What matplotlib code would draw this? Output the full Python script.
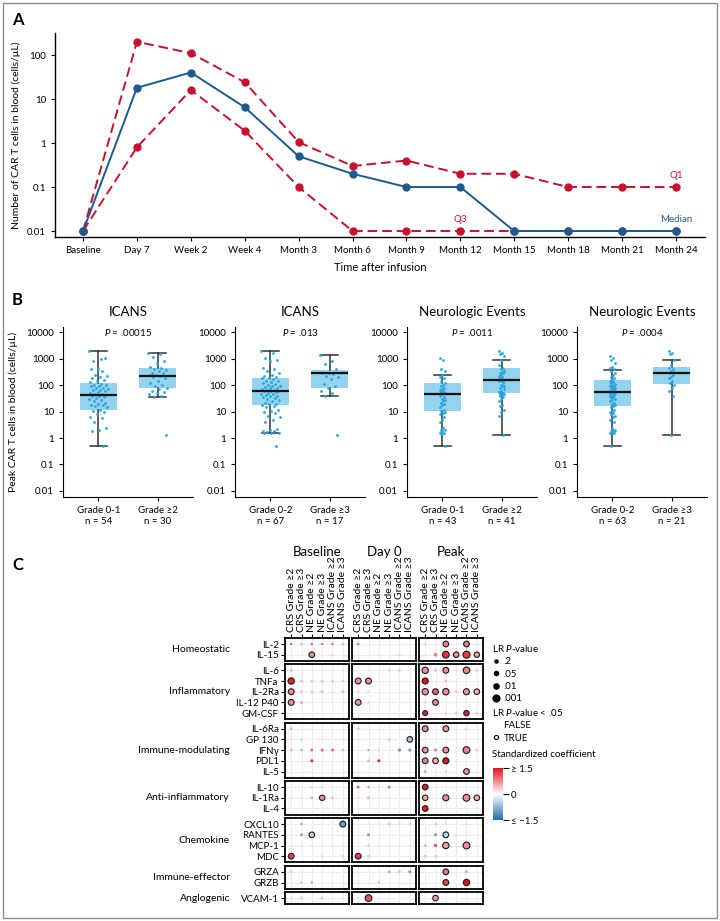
import numpy as np
import matplotlib.pyplot as plt
from matplotlib.colors import LinearSegmentedColormap, Normalize
from matplotlib.cm import ScalarMappable
from matplotlib.lines import Line2D
from matplotlib.patches import Rectangle

plt.rcParams['font.family'] = ['Lato', 'DejaVu Sans']
plt.rcParams['mathtext.fontset'] = 'custom'
plt.rcParams['mathtext.it'] = 'Lato:italic'
plt.rcParams['mathtext.rm'] = 'Lato'
plt.rcParams['axes.unicode_minus'] = False

# ---------------- panel A data ----------------
timepoints = ['Baseline', 'Day 7', 'Week 2', 'Week 4', 'Month 3', 'Month 6', 'Month 9',
              'Month 12', 'Month 15', 'Month 18', 'Month 21', 'Month 24']
median = [0.01, 18, 40, 6.5, 0.5, 0.2, 0.1, 0.1, 0.01, 0.01, 0.01, 0.01]
q1 = [0.01, 200, 110, 24, 1.05, 0.3, 0.4, 0.2, 0.2, 0.1, 0.1, 0.1]
q3 = [0.01, 0.8, 16, 1.9, 0.1, 0.01, 0.01, 0.01, 0.01, 0.01, 0.01, 0.01]

# ---------------- panel B data ----------------
b_titles = ['ICANS', 'ICANS', 'Neurologic Events', 'Neurologic Events']
b_pvals = ['$P$ = .00015', '$P$ = .013', '$P$ = .0011', '$P$ = .0004']
b_groups = [['Grade 0-1', 'Grade ≥2'], ['Grade 0-2', 'Grade ≥3'],
            ['Grade 0-1', 'Grade ≥2'], ['Grade 0-2', 'Grade ≥3']]
b_n = [[54, 30], [67, 17], [43, 41], [63, 21]]
# whisker low, Q1, median, Q3, whisker high
b_stats = [
    [[0.5, 12, 42, 120, 1900], [35, 75, 230, 450, 1600]],
    [[1.5, 18, 60, 185, 1900], [40, 80, 280, 380, 1400]],
    [[0.5, 11, 48, 120, 250], [1.3, 52, 160, 450, 900]],
    [[0.5, 17, 55, 160, 360], [1.3, 115, 300, 500, 900]],
]
icans01 = [1900, 950, 850, 1100, 400, 400, 350, 250, 220, 200, 180, 160, 150, 130, 110, 105,
           100, 95, 90, 80, 75, 70, 68, 65, 60, 55, 50, 48, 45, 42, 40, 38, 35, 32, 30, 28,
           25, 22, 20, 18, 18, 17, 15, 12, 11, 10, 8, 6.5, 5.5, 4, 2.3, 2, 1.8, 0.5]
icans2 = [1600, 1500, 1200, 800, 700, 500, 450, 400, 380, 350, 300, 280, 250, 240, 230,
          200, 180, 150, 120, 100, 90, 80, 70, 60, 55, 50, 45, 40, 35, 1.3]
icans02 = [1900, 1700, 1100, 900, 800, 450, 420, 350, 300, 250, 220, 200, 190, 180, 170,
           150, 140, 130, 120, 110, 100, 95, 90, 85, 80, 75, 70, 68, 65, 62, 60, 58, 55, 50,
           48, 45, 42, 40, 38, 35, 32, 30, 28, 25, 22, 20, 19, 18, 17, 15, 12, 11, 10, 9, 7,
           6, 5, 4, 2.2, 2, 1.9, 1.8, 1.7, 1.6, 1.5, 1.5, 0.5]
icans3 = [1400, 800, 650, 400, 300, 280, 260, 220, 200, 170, 110, 90, 75, 60, 50, 40, 1.3]
ne01 = [1100, 900, 400, 350, 250, 200, 180, 150, 120, 100, 90, 80, 70, 65, 60, 55, 50, 45,
        40, 35, 30, 28, 25, 22, 20, 18, 15, 12, 11, 10, 9, 8, 6, 5, 4, 2.3, 2.1, 2, 1.8, 1.6,
        1.5, 1.4, 0.5]
ne2 = [1900, 1700, 1500, 1300, 900, 600, 450, 400, 350, 320, 300, 280, 250, 220, 200, 180,
       160, 150, 140, 120, 100, 95, 90, 80, 70, 60, 55, 50, 48, 45, 40, 38, 35, 30, 25, 18,
       17, 12, 10, 7, 1.3]
ne02 = [1300, 1100, 900, 700, 500, 450, 400, 350, 300, 250, 200, 180, 160, 150, 130, 120,
        110, 100, 95, 90, 85, 80, 75, 70, 65, 60, 58, 55, 52, 50, 48, 45, 42, 40, 38, 35, 32,
        30, 28, 25, 22, 20, 18, 16, 15, 12, 11, 10, 9, 8, 7, 6, 5, 4, 2.3, 2.1, 2, 1.9, 1.8,
        1.7, 1.6, 1.5, 0.5]
ne3 = [1900, 1700, 1500, 900, 600, 450, 400, 350, 320, 300, 280, 250, 200, 180, 150, 120,
       100, 80, 60, 40, 1.3]
b_points = [[icans01, icans2], [icans02, icans3], [ne01, ne2], [ne02, ne3]]

# ---------------- panel C data ----------------
timesets = ['Baseline', 'Day 0', 'Peak']
outcomes = ['CRS Grade ≥2', 'CRS Grade ≥3', 'NE Grade ≥2', 'NE Grade ≥3',
            'ICANS Grade ≥2', 'ICANS Grade ≥3']
groups = ['Homeostatic', 'Inflammatory', 'Immune-modulating', 'Anti-inflammatory',
          'Chemokine', 'Immune-effector', 'Anglogenic']
cytokines = [['IL-2', 'IL-15'],
             ['IL-6', 'TNFa', 'IL-2Ra', 'IL-12 P40', 'GM-CSF'],
             ['IL-6Ra', 'GP 130', 'IFNγ', 'PDL1', 'IL-5'],
             ['IL-10', 'IL-1Ra', 'IL-4'],
             ['CXCL10', 'RANTES', 'MCP-1', 'MDC'],
             ['GRZA', 'GRZB'],
             ['VCAM-1']]
# standardized coefficient, 18 per cytokine (Baseline, Day 0, Peak x 6 outcomes)
coef = [
    [1.0, -0.6, 1.0, 1.0, 1.0, -0.6, 1.0, 0.1, 0.1, 0.1, 0.1, 0.1, 0.3, 0.2, 0.8, 0.1, 0.8, 0.2],
    [0.1, 0.1, 0.7, 0.1, 0.25, 0.1, 0.1, 0.1, 0.2, 0.05, 0.3, 0.1, 0.2, 0.8, 1.3, 0.7, 1.2, 0.6],
    [0.5, 0.1, 0.1, 0.1, 0.1, 0.2, 0.05, -0.15, 0.05, -0.4, -0.4, -0.1, 0.7, 0.5, 0.7, 0.3, 0.75, 0.4],
    [1.4, 0.4, 0.4, 0.4, 0.4, 0.4, 0.7, 0.7, 0.1, 0.1, 0.1, 0.1, 1.5, 0.15, 0.5, 0.1, 0.15, 0.1],
    [0.7, 0.4, 0.4, 0.45, 0.2, 0.45, 0.3, 0.3, 0.1, 0.1, 0.1, 0.1, 0.7, 1.0, 0.7, 0.4, 0.65, 0.5],
    [0.7, 0.5, 0.1, 0.1, 0.1, 0.1, 0.65, 0.3, 0.1, 0.1, 0.1, 0.1, 0.3, 0.7, 0.1, 0.1, 0.1, 0.1],
    [0.1, 0.1, 0.1, 0.1, 0.1, 0.1, 0.1, 0.1, 0.1, 0.1, 0.1, 0.1, 1.4, 0.1, 0.3, 0.4, 1.4, 0.4],
    [0.5, 0.1, 0.1, 0.1, -0.1, -0.15, 0.4, 0.1, 0.1, 0.05, -0.2, 0.1, 0.7, 0.1, 0.65, 0.1, 0.3, 0.1],
    [0.25, -0.4, 0.05, -0.25, 0.05, -0.2, 0.2, 0.1, 0.05, -0.4, 0.05, -0.6, 0.1, 0.1, 0.1, 0.1, 0.1, 0.1],
    [0.5, -0.7, 1.0, 1.0, 1.0, -0.6, 0.05, -0.7, 0.3, 0.05, -1.1, -1.0, 0.7, 0.9, 0.7, 0.1, 0.8, 0.4],
    [0.1, 0.1, 1.3, 0.1, 0.1, 0.1, 0.1, 0.5, 1.4, 0.1, 0.1, 0.1, 0.75, 0.5, 1.5, 0.1, 0.1, 0.1],
    [0.1, 0.1, 0.1, 0.1, 0.1, 0.1, 0.1, 0.1, 0.1, 0.1, 0.1, 0.1, 0.6, 0.2, 0.3, 0.1, 0.7, 0.15],
    [0.05, 0.05, 0.3, -0.35, 0.15, 0.05, 1.0, -0.8, 0.3, -1.0, -0.2, 0.05, 1.5, 0.15, 0.15, 0.15, 0.15, 0.15],
    [0.2, -0.2, 0.5, 0.7, 0.45, 0.05, 0.25, 0.45, 0.15, 0.2, 0.05, 0.05, 0.5, 0.1, 0.7, 0.1, 0.7, 0.5],
    [0.1, 0.1, 0.1, 0.1, 0.1, 0.1, 0.1, 0.1, 0.1, 0.1, 0.1, 0.1, 1.5, 0.15, 0.15, 0.15, 0.15, 0.15],
    [0.05, -0.7, 0.05, -0.1, 0.05, -1.0, 0.05, -0.25, -0.2, -0.45, -0.35, -0.35, 0.05, 0.4, 0.3, 0.05, 0.3, 0.1],
    [0.05, -0.9, -0.45, 0.05, 0.05, -0.2, 0.05, -0.9, 0.05, 0.05, 0.05, 0.05, -0.2, -1.0, -0.45, -0.25, -0.2, 0.05],
    [0.2, 0.2, 0.2, 0.2, 0.2, 0.2, 0.1, -0.4, 0.2, 0.2, 0.2, 0.2, 0.5, 1.1, 0.6, 0.1, 0.7, 0.15],
    [1.2, 0.1, 0.1, 0.3, 0.15, 0.35, 1.2, 0.4, 0.1, 0.1, 0.1, 0.1, 0.45, 0.4, 0.1, 0.1, 0.1, 0.1],
    [0.4, 0.1, 0.1, 0.1, -0.15, 0.05, 0.2, 0.05, 0.05, -0.7, -0.5, -1.0, 0.05, 0.05, 0.9, 0.05, 0.6, 0.05],
    [0.05, -0.5, 0.6, 0.05, 0.05, 0.05, 0.2, 0.2, 0.5, 0.05, 0.05, 0.05, 0.05, 0.05, 1.2, 0.05, 1.5, 0.05],
    [0.25, 0.4, 0.1, 0.4, 0.2, 0.2, 0.2, 1.1, 0.2, 0.1, 0.1, 0.1, 0.1, 0.6, 0.1, 0.1, 0.1, 0.1],
]
# LR p-values, same layout
pval = [
    [0.6, 0.6, 0.6, 0.6, 0.6, 0.6, 0.6, 0.8, 0.8, 0.8, 0.8, 0.8, 0.4, 0.5, 0.005, 0.7, 0.005, 0.6],
    [0.8, 0.8, 0.006, 0.8, 0.5, 0.8, 0.8, 0.8, 0.6, 0.8, 0.5, 0.8, 0.5, 0.08, 0.001, 0.006, 0.0007, 0.008],
    [0.2, 0.8, 0.8, 0.8, 0.8, 0.7, 0.8, 0.7, 0.8, 0.4, 0.4, 0.7, 0.002, 0.3, 0.004, 0.4, 0.0015, 0.3],
    [0.002, 0.3, 0.3, 0.3, 0.3, 0.3, 0.004, 0.004, 0.8, 0.8, 0.8, 0.8, 0.003, 0.7, 0.35, 0.8, 0.7, 0.8],
    [0.004, 0.3, 0.3, 0.2, 0.6, 0.2, 0.5, 0.5, 0.8, 0.8, 0.8, 0.8, 0.002, 0.004, 0.002, 0.3, 0.003, 0.006],
    [0.004, 0.2, 0.8, 0.8, 0.8, 0.8, 0.004, 0.5, 0.8, 0.8, 0.8, 0.8, 0.5, 0.005, 0.8, 0.8, 0.8, 0.8],
    [0.8, 0.8, 0.8, 0.8, 0.8, 0.8, 0.8, 0.8, 0.8, 0.8, 0.8, 0.8, 0.015, 0.8, 0.5, 0.4, 0.008, 0.4],
    [0.25, 0.8, 0.8, 0.8, 0.8, 0.8, 0.3, 0.8, 0.8, 0.8, 0.7, 0.8, 0.004, 0.8, 0.004, 0.8, 0.5, 0.8],
    [0.6, 0.35, 0.8, 0.5, 0.8, 0.6, 0.6, 0.8, 0.8, 0.15, 0.8, 0.006, 0.8, 0.8, 0.8, 0.8, 0.8, 0.8],
    [0.4, 0.6, 0.3, 0.3, 0.3, 0.4, 0.8, 0.6, 0.6, 0.8, 0.2, 0.25, 0.005, 0.3, 0.004, 0.8, 0.001, 0.4],
    [0.8, 0.8, 0.2, 0.8, 0.8, 0.8, 0.8, 0.35, 0.2, 0.8, 0.8, 0.8, 0.005, 0.005, 0.003, 0.8, 0.8, 0.8],
    [0.8, 0.8, 0.8, 0.8, 0.8, 0.8, 0.8, 0.8, 0.8, 0.8, 0.8, 0.8, 0.25, 0.6, 0.5, 0.8, 0.005, 0.7],
    [0.8, 0.8, 0.5, 0.4, 0.7, 0.8, 0.3, 0.6, 0.6, 0.25, 0.7, 0.8, 0.005, 0.7, 0.7, 0.7, 0.7, 0.7],
    [0.6, 0.6, 0.3, 0.008, 0.3, 0.8, 0.6, 0.2, 0.7, 0.6, 0.8, 0.8, 0.007, 0.8, 0.003, 0.8, 0.001, 0.006],
    [0.8, 0.8, 0.8, 0.8, 0.8, 0.8, 0.8, 0.8, 0.8, 0.8, 0.8, 0.8, 0.005, 0.7, 0.7, 0.7, 0.7, 0.7],
    [0.8, 0.35, 0.8, 0.8, 0.8, 0.004, 0.8, 0.6, 0.6, 0.2, 0.3, 0.3, 0.8, 0.4, 0.6, 0.8, 0.5, 0.8],
    [0.8, 0.25, 0.006, 0.8, 0.8, 0.6, 0.8, 0.25, 0.8, 0.8, 0.8, 0.8, 0.6, 0.25, 0.005, 0.5, 0.6, 0.8],
    [0.7, 0.7, 0.7, 0.7, 0.7, 0.7, 0.8, 0.4, 0.7, 0.7, 0.7, 0.7, 0.3, 0.15, 0.002, 0.8, 0.001, 0.7],
    [0.005, 0.8, 0.8, 0.6, 0.7, 0.45, 0.004, 0.35, 0.8, 0.8, 0.8, 0.8, 0.3, 0.35, 0.8, 0.8, 0.8, 0.8],
    [0.4, 0.8, 0.8, 0.8, 0.7, 0.8, 0.7, 0.8, 0.8, 0.3, 0.4, 0.3, 0.8, 0.8, 0.005, 0.8, 0.25, 0.8],
    [0.8, 0.45, 0.3, 0.8, 0.8, 0.8, 0.7, 0.7, 0.4, 0.8, 0.8, 0.8, 0.8, 0.8, 0.004, 0.8, 0.002, 0.8],
    [0.6, 0.35, 0.8, 0.4, 0.6, 0.6, 0.6, 0.001, 0.6, 0.8, 0.8, 0.8, 0.8, 0.006, 0.8, 0.8, 0.8, 0.8],
]
legend_p = [0.2, 0.05, 0.01, 0.001]

RED = '#c8102e'
BLUE = '#1d5a8e'
BOXC = '#93d3ef'
PTC = '#27a6df'
W, H = 720, 921

fig = plt.figure(figsize=(7.2, 9.21), dpi=100)


def box(l, t, r, b):
    return [l / W, 1 - b / H, (r - l) / W, (b - t) / H]


def dot_size(p):
    d = 2.0 + 1.6 * min(-np.log10(p), 3.2)   # diameter in px
    return d * 0.72


# ---------------- panel A ----------------
axA = fig.add_axes(box(55, 33, 705, 237))
x = np.arange(len(timepoints))
axA.plot(x, q1, '--o', color=RED, lw=1.4, ms=5, dashes=(5, 2.5))
axA.plot(x, q3, '--o', color=RED, lw=1.4, ms=5, dashes=(5, 2.5))
axA.plot(x, median, '-o', color=BLUE, lw=1.4, ms=5)
axA.set_yscale('log')
axA.set_ylim(10 ** -2.136, 10 ** 2.5)
axA.set_xlim(-0.52, 11.54)
axA.set_yticks([0.01, 0.1, 1, 10, 100])
axA.set_yticklabels(['0.01', '0.1', '1', '10', '100'])
axA.minorticks_off()
axA.set_xticks(x)
axA.set_xticklabels(timepoints)
axA.tick_params(labelsize=7, length=3, width=0.8)
for s in ['top', 'right']:
    axA.spines[s].set_visible(False)
for s in ['left', 'bottom']:
    axA.spines[s].set_linewidth(1)
axA.set_xlabel('Time after infusion', fontsize=8, labelpad=5)
axA.set_ylabel('Number of CAR T cells in blood (cells/µL)', fontsize=7.5)
axA.text(11, 0.18, 'Q1', color=RED, fontsize=7, ha='center', va='center')
axA.text(7, 0.018, 'Q3', color=RED, fontsize=7, ha='center', va='center')
axA.text(11, 0.018, 'Median', color=BLUE, fontsize=7, ha='center', va='center')

# ---------------- panel B ----------------
b_left = [63, 235, 407, 577]
for i in range(4):
    ax = fig.add_axes(box(b_left[i], 327, b_left[i] + 130, 497))
    stats = []
    for k in range(2):
        lo, qa, med, qb, hi = b_stats[i][k]
        stats.append(dict(whislo=lo, q1=qa, med=med, q3=qb, whishi=hi, fliers=[]))
    ax.bxp(stats, positions=[0, 1], widths=0.63, patch_artist=True, showfliers=False,
           capwidths=0.3,
           boxprops=dict(facecolor=BOXC, edgecolor='none'),
           medianprops=dict(color='#111111', lw=1.6, zorder=4),
           whiskerprops=dict(color='#333333', lw=1.1),
           capprops=dict(color='#333333', lw=1.1))
    spread = 0.16 if i < 2 else 0.05
    for k in range(2):
        vals = np.array(b_points[i][k])
        jit = ((np.arange(len(vals)) * 0.618034) % 1 - 0.5) * 2 * spread
        ax.scatter(k + jit, vals, s=4, color=PTC, lw=0, zorder=3)
    ax.set_yscale('log')
    ax.set_ylim(10 ** -2.23, 10 ** 4.2)
    ax.set_xlim(-0.6, 1.6)
    ax.set_yticks([0.01, 0.1, 1, 10, 100, 1000, 10000])
    ax.set_yticklabels(['0.01', '0.1', '1', '10', '100', '1000', '10000'])
    ax.minorticks_off()
    ax.set_xticks([0, 1])
    ax.set_xticklabels([f'{g}\nn = {n}' for g, n in zip(b_groups[i], b_n[i])],
                       linespacing=1.3)
    ax.tick_params(labelsize=7, length=3, width=0.8)
    for s in ['top', 'right']:
        ax.spines[s].set_visible(False)
    ax.set_title(b_titles[i], fontsize=9.5, pad=8)
    ax.text(0.5, 10000, b_pvals[i], fontsize=7, ha='center', va='center')
    if i == 0:
        ax.set_ylabel('Peak CAR T cells in blood (cells/µL)', fontsize=7.5, labelpad=6)

# ---------------- panel C ----------------
cmap = LinearSegmentedColormap.from_list('coef', ['#1f6fae', '#ffffff', '#e3101f'])
norm = Normalize(-1.5, 1.5)
col_l = [285, 352, 419]
col_r = [349, 416, 483]
ROW, PAD, GAP = 10.7, 6.0, 3.6
top = 638.0
row0 = 0
for g, names in enumerate(cytokines):
    n = len(names)
    bottom = top + 2 * PAD + (n - 1) * ROW
    for t in range(3):
        ax = fig.add_axes(box(col_l[t], top, col_r[t], bottom))
        ax.set_xlim(-0.6, 5.6)
        ax.set_ylim(n - 1 + PAD / ROW, -PAD / ROW)
        ax.set_xticks(range(6))
        ax.set_yticks(range(n))
        ax.grid(True, color='#ececec', lw=0.7)
        ax.set_axisbelow(True)
        xs, ys, cs, ss, ec = [], [], [], [], []
        for r in range(n):
            for c in range(6):
                p = pval[row0 + r][t * 6 + c]
                xs.append(c)
                ys.append(r)
                cs.append(coef[row0 + r][t * 6 + c])
                ss.append(dot_size(p) ** 2)
                ec.append('#1a1a1a' if p < 0.05 else 'none')
        ax.scatter(xs, ys, c=cs, cmap=cmap, norm=norm, s=ss, edgecolors=ec,
                   linewidths=0.8, zorder=3)
        for s in ax.spines.values():
            s.set_linewidth(1.3)
        if t == 0:
            ax.set_yticklabels(names, fontsize=7)
            ax.tick_params(axis='y', length=3, width=0.8, pad=1.5)
        else:
            ax.set_yticklabels([])
            ax.tick_params(axis='y', length=0)
        if g == 0:
            ax.xaxis.tick_top()
            ax.set_xticklabels(outcomes, rotation=90, fontsize=7.5)
            ax.tick_params(axis='x', length=3, width=0.8, pad=1.5)
        else:
            ax.set_xticklabels([])
            ax.tick_params(axis='x', length=0)
    fig.text(230 / W, 1 - (top + bottom) / 2 / H, groups[g], fontsize=7.5,
             ha='right', va='center')
    row0 += n
    top = bottom + GAP

for t in range(3):
    fig.text((col_l[t] + col_r[t]) / 2 / W, 1 - 552 / H, timesets[t], fontsize=9.5,
             ha='center', va='center')

# legends
h1 = [Line2D([], [], ls='none', marker='o', color='black', ms=dot_size(p)) for p in legend_p]
fig.legend(h1, ['.2', '.05', '.01', '.001'], title='LR $P$-value',
           loc='upper left', bbox_to_anchor=(487 / W, 1 - 638 / H), frameon=False,
           fontsize=7, title_fontsize=7, alignment='left', handlelength=0.8,
           handletextpad=0.4, labelspacing=0.35, borderpad=0)
h2 = [Line2D([], [], ls='none', marker='o', mfc='none', mec='none', ms=3),
      Line2D([], [], ls='none', marker='o', mfc='white', mec='black', mew=0.8, ms=3)]
fig.legend(h2, ['FALSE', 'TRUE'], title='LR $P$-value < .05',
           loc='upper left', bbox_to_anchor=(487 / W, 1 - 702 / H), frameon=False,
           fontsize=7, title_fontsize=7, alignment='left', handlelength=0.8,
           handletextpad=0.4, labelspacing=0.35, borderpad=0)
fig.text(492 / W, 1 - 754 / H, 'Standardized coefficient', fontsize=7, va='center')
cax = fig.add_axes(box(493, 768, 503, 820))
cb = fig.colorbar(ScalarMappable(norm=norm, cmap=cmap), cax=cax, ticks=[-1.5, 0, 1.5])
cb.ax.set_yticklabels(['≤ −1.5', '0', '≥ 1.5'])
cb.ax.tick_params(labelsize=7, length=4, width=0.8, pad=1.5)
cb.outline.set_visible(False)

# panel letters and frame
for lab, y in [('A', 20), ('B', 300), ('C', 565)]:
    fig.text(12 / W, 1 - y / H, lab, fontsize=12, fontweight='bold', va='center')
fig.patches.append(Rectangle((3 / W, 3 / H), 714 / W, 915 / H, transform=fig.transFigure,
                             fill=False, ec='#8c8c8c', lw=1))

fig.savefig('out.png', dpi=100)
